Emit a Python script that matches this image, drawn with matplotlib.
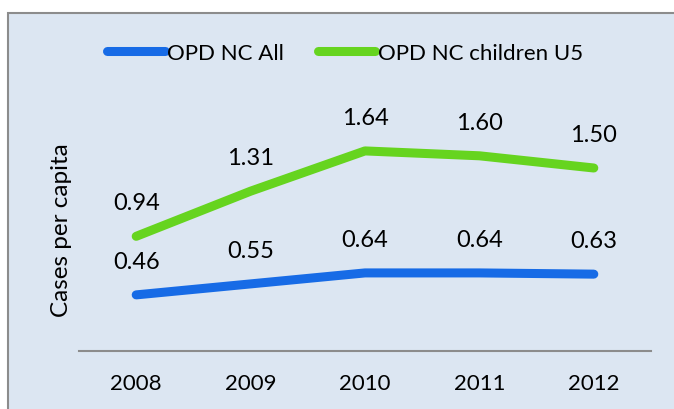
import matplotlib
matplotlib.use("Agg")
import matplotlib.pyplot as plt
from matplotlib.patches import Rectangle

years = ["2008", "2009", "2010", "2011", "2012"]
opd_all = [0.46, 0.55, 0.64, 0.64, 0.63]
opd_u5 = [0.94, 1.31, 1.64, 1.60, 1.50]
series_names = ["OPD NC All", "OPD NC children U5"]

W, H = 674, 410
fig = plt.figure(figsize=(W / 100, H / 100), dpi=100)
fig.patch.set_facecolor("white")
plt.rcParams['font.family'] = ['Lato', 'DejaVu Sans']

bg = "#DCE6F2"
fig.patches.append(Rectangle((8 / W, -0.1), 1.2, (H - 14) / H + 0.1,
                             transform=fig.transFigure, facecolor=bg,
                             edgecolor="#8C8C8C", linewidth=1.5, zorder=-10))

ax = fig.add_axes([79 / W, (H - 352) / H, (651 - 79) / W, (352 - 108) / H])
ax.set_facecolor("none")
x = list(range(len(years)))
blue = "#176BE6"
green = "#66D41F"
l1, = ax.plot(x, opd_all, color=blue, lw=6.5, solid_capstyle="round", label=series_names[0])
l2, = ax.plot(x, opd_u5, color=green, lw=6.5, solid_capstyle="round", label=series_names[1])

for xi, v in zip(x, opd_all):
    ax.annotate(f"{v:.2f}", (xi, v), xytext=(0, 24), textcoords="offset points",
                ha="center", va="center", fontsize=17)
for xi, v in zip(x, opd_u5):
    ax.annotate(f"{v:.2f}", (xi, v), xytext=(0, 24), textcoords="offset points",
                ha="center", va="center", fontsize=17)

ax.set_xlim(-0.5, len(years) - 0.5)
ax.set_ylim(0, 2.0)
ax.set_xticks(x)
ax.set_xticklabels(years, fontsize=16)
ax.tick_params(axis="x", length=0, pad=16)
ax.set_yticks([])
for s in ["top", "right", "left"]:
    ax.spines[s].set_visible(False)
ax.spines["bottom"].set_color("#8C8C8C")
ax.spines["bottom"].set_linewidth(1.5)

fig.text(62 / W, 1 - 230 / H, "Cases per capita", rotation=90, ha="center", va="center", fontsize=17.5)

fig.legend(handles=[l1, l2], loc="center", bbox_to_anchor=(345 / W, 1 - 54 / H),
           ncol=2, frameon=False, fontsize=16, handlelength=2.6, handletextpad=0.1,
           columnspacing=1.5)

fig.savefig("out.png", dpi=100, facecolor="white")
